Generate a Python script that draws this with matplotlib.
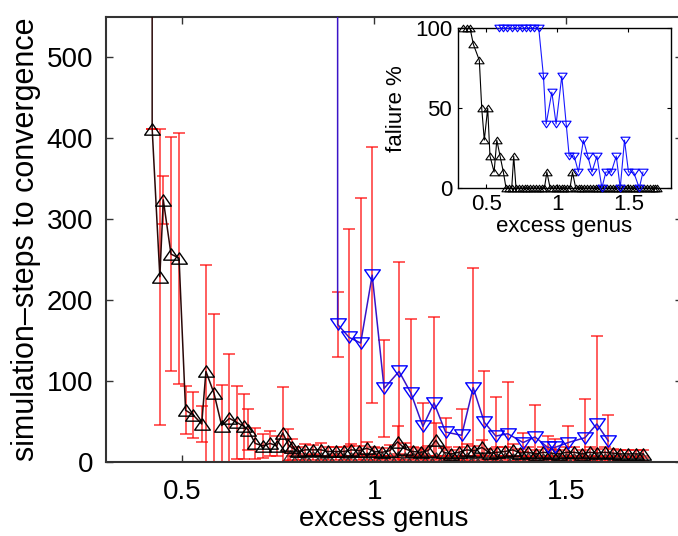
import matplotlib
matplotlib.use("Agg")
import matplotlib.pyplot as plt
from matplotlib.path import Path
import numpy as np

plt.rcParams['font.family'] = ['Liberation Sans', 'DejaVu Sans']

# ---------------- main panel data ----------------
# black series (up triangles), upper row
blk_x = [0.421, 0.421, 0.441, 0.450, 0.470, 0.491, 0.508, 0.528, 0.550, 0.561, 0.582,
         0.602, 0.622, 0.641, 0.660, 0.671, 0.689, 0.709, 0.728, 0.745, 0.761,
         0.776, 0.784, 0.80, 0.82, 0.84, 0.86, 0.88, 0.90, 0.92, 0.94, 0.96,
         0.98, 1.00, 1.02, 1.04, 1.06, 1.08, 1.10, 1.12, 1.14, 1.16, 1.18,
         1.20, 1.22, 1.24, 1.26, 1.28, 1.30, 1.32, 1.34, 1.36, 1.38, 1.40,
         1.42, 1.44, 1.46, 1.48, 1.50, 1.52, 1.54, 1.56, 1.58, 1.60, 1.62,
         1.64, 1.66, 1.68, 1.70]
blk_y = [1500, 412, 229, 324, 257, 252, 64, 58, 47, 112, 85,
         45, 54, 49, 44, 40, 23, 20, 23, 20, 36,
         21, 18, 13, 15, 15, 15, 13, 13, 13, 15, 14,
         17, 13, 12, 14, 25, 16, 13, 12, 14, 27, 12,
         10, 12, 15, 14, 18, 11, 12, 13, 15, 11, 12,
         10, 12, 11, 10, 12, 12, 10, 12, 11, 12, 11,
         10, 10, 10, 10]
blk_err = [0, 0, 183, 30, 145, 155, 30, 28, 22, 132, 98,
           50, 80, 45, 40, 25, 19, 15, 15, 12, 57,
           20, 10, 6, 7, 6, 8, 6, 5, 6, 7, 6,
           8, 6, 5, 7, 20, 7, 6, 5, 6, 21, 5,
           5, 6, 7, 6, 9, 5, 6, 6, 7, 5, 6,
           5, 6, 5, 5, 6, 6, 5, 6, 5, 6, 5,
           5, 5, 5, 5]

# black series, lower row
blk2_x = [0.78, 0.80, 0.82, 0.84, 0.86, 0.88, 0.90, 0.92, 0.94, 0.96, 0.98,
          1.00, 1.02, 1.04, 1.06, 1.08, 1.10, 1.12, 1.14, 1.16, 1.18, 1.20,
          1.22, 1.24, 1.26, 1.28, 1.30, 1.32, 1.34, 1.36, 1.38, 1.40, 1.42,
          1.44, 1.46, 1.48, 1.50, 1.52, 1.54, 1.56, 1.58, 1.60, 1.62, 1.64,
          1.66, 1.68, 1.70]
blk2_y = [7, 6, 5, 6, 5, 5, 6, 5, 5, 6, 5,
          6, 5, 5, 6, 5, 5, 6, 5, 5, 5, 4,
          5, 5, 4, 5, 5, 4, 5, 4, 4, 5, 4,
          4, 5, 4, 4, 4, 5, 4, 4, 4, 4, 4,
          4, 4, 4]
blk2_err = [4, 4, 3, 4, 3, 3, 4, 3, 3, 4, 3,
            4, 3, 3, 4, 3, 3, 4, 3, 3, 3, 3,
            3, 3, 3, 3, 3, 3, 3, 3, 3, 3, 3,
            3, 3, 3, 3, 3, 3, 3, 3, 3, 3, 3,
            3, 3, 3]

# blue series (down triangles)
blu_x = [0.904, 0.904, 0.934, 0.964, 0.994, 1.025, 1.064, 1.095, 1.126, 1.155, 1.185,
         1.227, 1.257, 1.286, 1.316, 1.347, 1.387, 1.418, 1.451, 1.470,
         1.504, 1.548, 1.579, 1.609]
blu_y = [1500, 170, 154, 147, 231, 91, 112, 85, 44, 73, 37,
         33, 92, 49, 32, 35, 24, 31, 18, 18,
         24, 30, 47, 26]
blu_err = [0, 40, 134, 179, 158, 60, 135, 92, 29, 106, 18,
           32, 148, 63, 48, 64, 12, 40, 14, 10,
           20, 48, 109, 32]

# ---------------- inset data (failure %) ----------------
fb_x = [0.339, 0.363, 0.387, 0.410, 0.452, 0.469, 0.487, 0.511, 0.527, 0.556,
        0.575, 0.598, 0.621, 0.640, 0.660, 0.680, 0.694, 0.71, 0.73, 0.75,
        0.77, 0.79, 0.81, 0.83, 0.85, 0.87, 0.89, 0.91, 0.927, 0.95, 0.97,
        0.99, 1.01, 1.03, 1.05, 1.07, 1.09, 1.107, 1.13, 1.15, 1.17, 1.19,
        1.21, 1.23, 1.25, 1.27, 1.29, 1.31, 1.33, 1.35, 1.37, 1.39, 1.41,
        1.43, 1.45, 1.47, 1.49, 1.51, 1.53, 1.55, 1.57, 1.59, 1.61, 1.63,
        1.65, 1.67, 1.69, 1.70]
fb_y = [100, 100, 100, 90, 80, 50, 30, 50, 20, 10,
        30, 20, 10, 0, 0, 0, 20, 0, 0, 0,
        0, 0, 0, 0, 0, 0, 0, 0, 10, 0, 0,
        0, 0, 0, 0, 0, 0, 10, 0, 0, 0, 0,
        0, 0, 0, 0, 0, 0, 0, 0, 0, 0, 0,
        0, 0, 0, 0, 0, 0, 0, 0, 0, 0, 0,
        0, 0, 0, 0]

fu_x = [0.59, 0.62, 0.65, 0.68, 0.72, 0.75, 0.78, 0.81, 0.84, 0.87,
        0.903, 0.922, 0.962, 0.992, 1.032, 1.063, 1.084, 1.119, 1.149, 1.184,
        1.215, 1.244, 1.279, 1.314, 1.342, 1.380, 1.415, 1.443, 1.473, 1.501,
        1.537, 1.577, 1.603]
fu_y = [100, 100, 100, 100, 100, 100, 100, 100, 100, 100,
        70, 40, 60, 40, 70, 40, 20, 20, 10, 30,
        20, 10, 20, 0, 10, 10, 20, 0, 30, 10,
        10, 0, 10]

main_xticks = [0.5, 1, 1.5]
main_yticks = [0, 100, 200, 300, 400, 500]
inset_yticks = [0, 50, 100]

# ---------------- drawing ----------------
W, H = 678, 536
fig = plt.figure(figsize=(W / 100, H / 100), dpi=100)

up = Path([(-1, -0.72), (1, -0.72), (0, 0.72), (-1, -0.72)],
          [Path.MOVETO, Path.LINETO, Path.LINETO, Path.CLOSEPOLY])
down = Path([(-1, 0.72), (1, 0.72), (0, -0.72), (-1, 0.72)],
            [Path.MOVETO, Path.LINETO, Path.LINETO, Path.CLOSEPOLY])

ax = fig.add_axes([105.7 / W, (H - 462) / H, 576 / W, 445 / H])
ecol = (1.0, 0.0, 0.0, 0.8)
for xs, ys, es in [(blk2_x, blk2_y, blk2_err), (blk_x, blk_y, blk_err), (blu_x, blu_y, blu_err)]:
    ax.errorbar(xs, ys, yerr=es, fmt='none', ecolor=ecol, elinewidth=1.1,
                capsize=4.6, capthick=1.1, zorder=2)
ax.plot(blk2_x, blk2_y, color='#222222', lw=0.9, marker=up, ms=11.3,
        mfc='none', mec='#333333', mew=0.9, zorder=3)
ax.plot(blk_x, blk_y, color='#2a0808', lw=1.1, marker=up, ms=11.3,
        mfc='none', mec='black', mew=1.0, zorder=4)
ax.plot(blu_x, blu_y, color='#3a14c8', lw=1.1, marker=down, ms=11.3,
        mfc='none', mec='#0000ff', mew=1.0, zorder=4)

ax.set_xlim(0.3, 1.8)
ax.set_ylim(0, 550)
ax.set_xticks(main_xticks)
ax.set_xticklabels(['0.5', '1', '1.5'])
ax.set_yticks(main_yticks)
ax.tick_params(direction='in', top=True, right=True, length=5, width=1.0,
               labelsize=20, colors='#333333', labelcolor='black')
ax.tick_params(axis='x', pad=12)
ax.tick_params(axis='y', pad=9)
for s in ax.spines.values():
    s.set_linewidth(1.5)
    s.set_color('#333333')
ax.set_xlabel('excess genus', fontsize=20, labelpad=0)
ax.xaxis.set_label_coords(0.482, -0.1, transform=ax.transAxes)
ax.xaxis.label.set_verticalalignment('top')
ax.set_ylabel('simulation\u2013steps to convergence', fontsize=22, labelpad=4)

# inset
ia = fig.add_axes([457.7 / W, (H - 188) / H, (671 - 457.7) / W, (188 - 28.3) / H])
ia.set_facecolor('white')
ia.plot(fb_x, fb_y, color='black', lw=0.8, marker=up, ms=6.6, mfc='none',
        mec='black', mew=0.8, clip_on=False, zorder=3)
ia.plot(fu_x, fu_y, color='#1a1aff', lw=0.8, marker=down, ms=6.6, mfc='none',
        mec='#0000ff', mew=0.8, clip_on=False, zorder=3)
ia.set_xlim(0.3, 1.8)
ia.set_ylim(0, 100)
ia.set_xticks(main_xticks)
ia.set_xticklabels(['0.5', '1', '1.5'])
ia.set_yticks(inset_yticks)
ia.tick_params(direction='in', top=True, right=True, length=3, width=0.8,
               labelsize=16, pad=4)
for s in ia.spines.values():
    s.set_linewidth(1.0)
ia.set_xlabel('excess genus', fontsize=16, labelpad=1)
ia.set_ylabel('faliure %', fontsize=16, labelpad=6)

fig.savefig('out.png', dpi=100)
